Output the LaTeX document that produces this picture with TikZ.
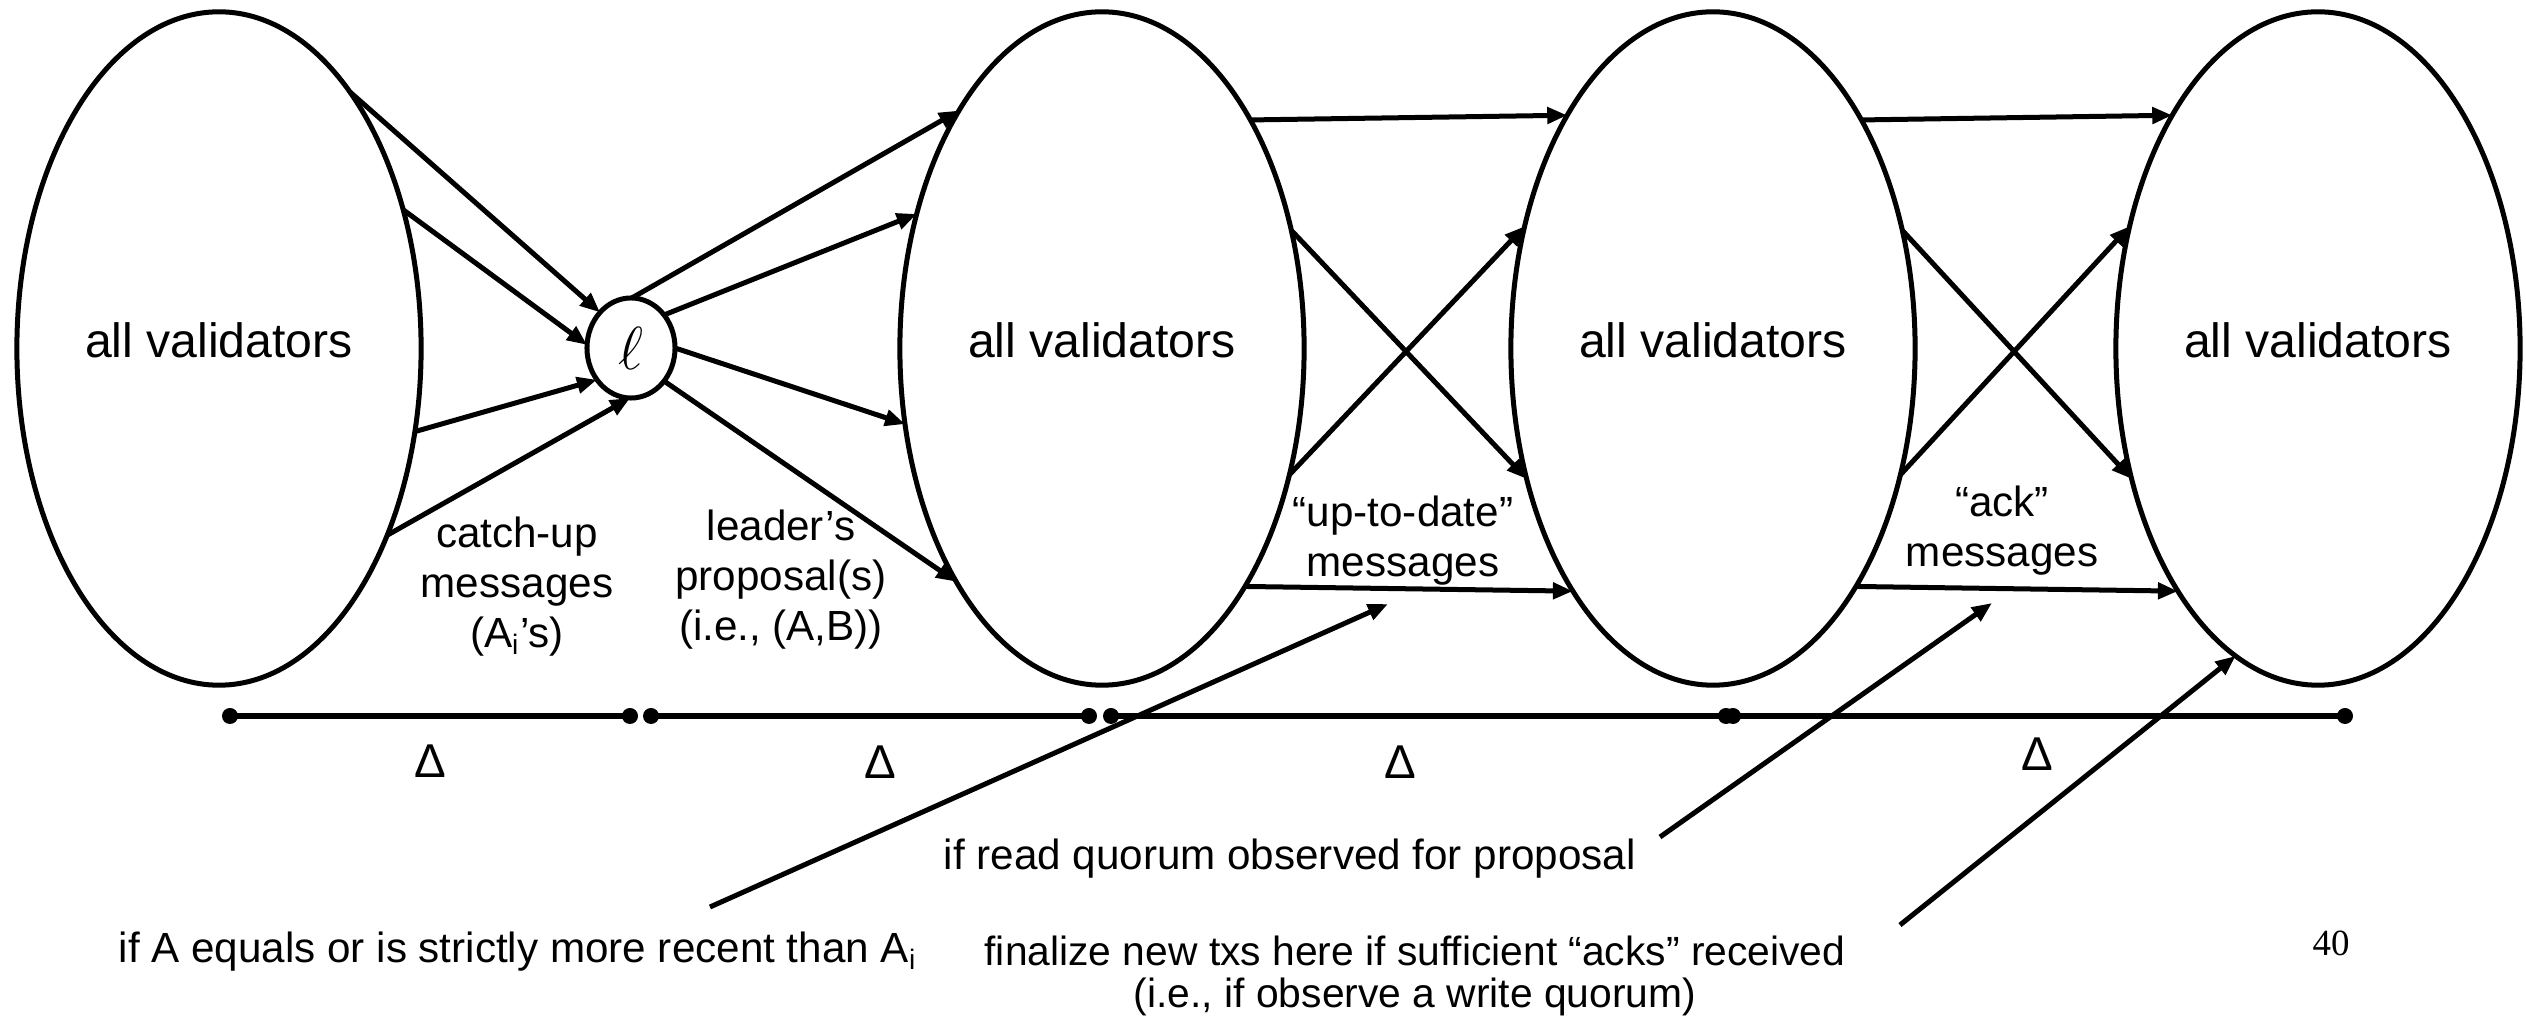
\documentclass[tikz,border=0pt]{standalone}
\usepackage{fontspec}
\setmainfont{Liberation Sans}
\newfontfamily\pagenumfont{Liberation Serif}
\usetikzlibrary{shapes.geometric,arrows.meta}

\begin{document}
\begin{tikzpicture}[x=0.01cm,y=-0.01cm,
  vset/.style={ellipse, draw, line width=0.05cm, minimum width=4.04cm,
    minimum height=6.73cm, inner sep=0pt, outer sep=0pt,
    label={[vlabel,yshift=0.08cm]center:all validators}},
  vlabel/.style={font=\fontsize{13.7}{16}\selectfont},
  leader/.style={ellipse, draw, line width=0.05cm, minimum width=0.88cm,
    minimum height=1.0cm, inner sep=0pt, outer sep=0pt,
    font=\fontsize{18}{20}\selectfont},
  msg/.style={line width=0.05cm, -{Triangle[length=0.2cm 0 0,width=0.16cm 0 0]}},
  mlabel/.style={font=\fontsize{12}{14.2}\selectfont, align=center, inner sep=0pt},
  note/.style={font=\fontsize{12}{14}\selectfont, inner sep=0pt},
  tline/.style={line width=0.055cm},
  tdot/.style={circle, fill, inner sep=0pt, minimum size=0.16cm},
  dlabel/.style={font=\fontsize{13.5}{16}\selectfont, inner sep=0pt}
]
\useasboundingbox (0,0) rectangle (2526,1016);
\fill[white] (0,0) rectangle (2526,1016);

% the four rounds of validators and the leader
\node[vset] (E1) at (219,348.5) {};
\node[vset] (E2) at (1102,348.5) {};
\node[vset] (E3) at (1713,348.5) {};
\node[vset] (E4) at (2318,348.5) {};
\node[leader] (L) at (631,348) {$\ell$};

% catch-up messages to the leader
\draw[msg] (E1.63.7) -- (L.131);
\draw[msg] (E1.37.5) -- (L.176);
\draw[msg] (E1.-23.1) -- (L.223);
\draw[msg] (E1.-48.4) -- (L.269);

% leader's proposals
\draw[msg] (L.89) -- (E2.121.4);
\draw[msg] (L.45) -- (E2.144.9);
\draw[msg] (L.0) -- (E2.201.2);
\draw[msg] (L.-45.8) -- (E2.238.2);

% all-to-all exchanges
\foreach \a/\b in {E2/E3, E3/E4} {
  \draw[msg] (\a.57.65) -- (\b.122.35);
  \draw[msg] (\a.-59.78) -- (\b.-120.22);
  \draw[msg] (\a.32.6) -- (\b.215.75);
  \draw[msg] (\a.-34.05) -- (\b.147.2);
}

% message labels
\node[mlabel] (catchup) at (517,587) {catch-up\\messages\\(A\textsubscript{i}’s)};
\node[mlabel] (proposal) at (781,580) {leader’s\\proposal(s)\\(i.e., (A,B))};
\node[mlabel] (uptodate) at (1403,541) {“up-to-date”\\messages};
\node[mlabel] (ack) at (2002,531) {“ack”\\messages};

% time line
\node[tdot] (T1) at (230,716) {};
\node[tdot] (T2) at (630,716) {};
\node[tdot] (T3) at (651,716) {};
\node[tdot] (T4) at (1089,716) {};
\node[tdot] (T5) at (1111,716) {};
\node[tdot] (T6) at (1726,716) {};
\node[tdot] (T7) at (1733,716) {};
\node[tdot] (T8) at (2345,716) {};
\draw[tline] (T1.center) -- (T2.center);
\draw[tline] (T3.center) -- (T4.center);
\draw[tline] (T5.center) -- (T6.center);
\draw[tline] (T7.center) -- (T8.center);
\node[dlabel] (d1) at (430,761) {Δ};
\node[dlabel] (d2) at (880,762) {Δ};
\node[dlabel] (d3) at (1400,762) {Δ};
\node[dlabel] (d4) at (2037,754) {Δ};

% annotations
\node[note, anchor=base west] (n1) at (118,963)
  {if A equals or is strictly more recent than A\textsubscript{i}};
\node[note, anchor=base west] (n2) at (943,870)
  {if read quorum observed for proposal};
\node[note, align=center, font=\fontsize{11.6}{11.8}\selectfont] (n3) at (1415,976)
  {finalize new txs here if sufficient “acks” received\\(i.e., if observe a write quorum)};
\coordinate (c1s) at (710,907);
\coordinate (c1e) at (1388,604);
\coordinate (c2s) at (1660,837);
\coordinate (c2e) at (1992,603);
\coordinate (c3s) at (1900,925);
\draw[msg] (c1s) -- (c1e);
\draw[msg] (c2s) -- (c2e);
\draw[msg] (c3s) -- (E4.255);

% slide number
\node[font=\pagenumfont\fontsize{10.5}{12}\selectfont] (pg) at (2331,943) {40};
\end{tikzpicture}
\end{document}
